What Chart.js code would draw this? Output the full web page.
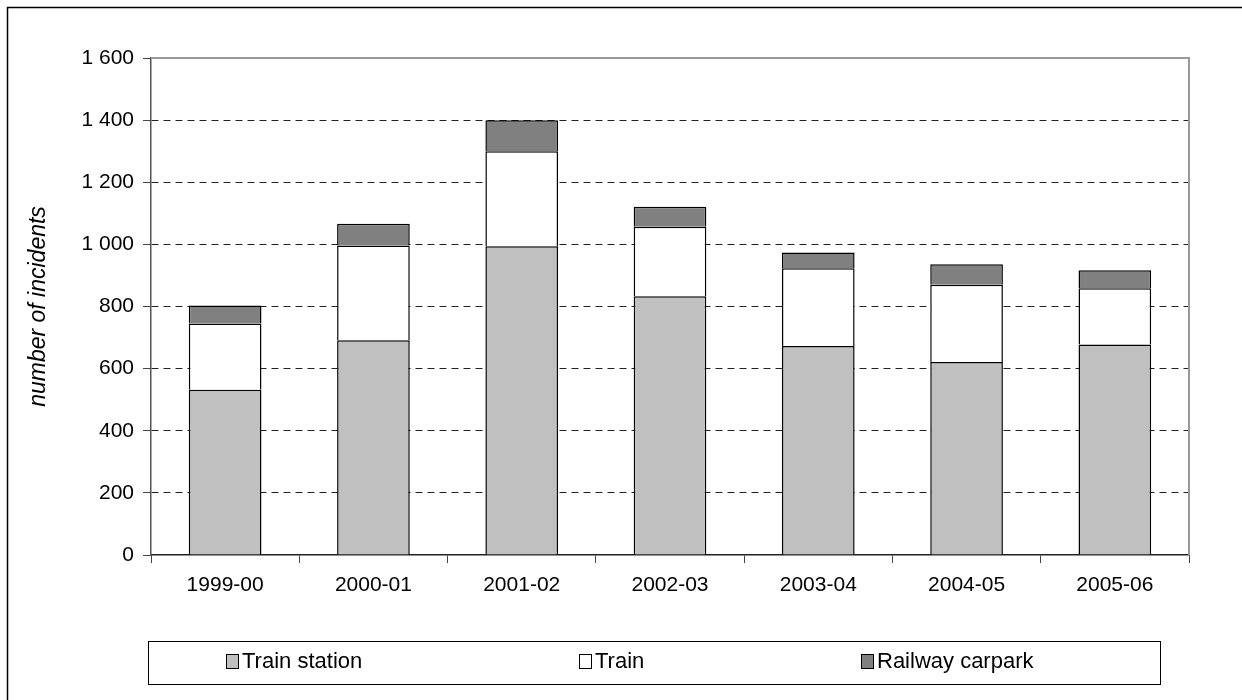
<!DOCTYPE html>
<html>
<head>
<meta charset="utf-8">
<script src="https://cdn.jsdelivr.net/npm/chart.js@4/dist/chart.umd.min.js"></script>
<style>
  html, body { margin: 0; padding: 0; background: #fff; }
  #wrap { position: relative; width: 1242px; height: 700px; }
  #legend {
    position: absolute; left: 148px; top: 641px; width: 1013px; height: 44px;
    border: 1px solid #000; box-sizing: border-box;
    font-family: "Liberation Sans", Arial, sans-serif; font-size: 22px; color: #000;
  }
  .item { position: absolute; top: 6px; white-space: nowrap; }
  .box { display: inline-block; width: 11px; height: 13px; border: 1px solid #000; vertical-align: -1px; margin-right: 3px; }
</style>
</head>
<body>
<div id="wrap">
  <canvas id="barChart" width="1242" height="700"></canvas>
  <div id="legend"></div>
</div>
<script>
var years = ["1999-00", "2000-01", "2001-02", "2002-03", "2003-04", "2004-05", "2005-06"];
var trainStation = [532, 691, 994, 833, 673, 621, 678];
var train = [213, 305, 306, 224, 250, 249, 181];
var railwayCarpark = [58, 70, 100, 64, 51, 66, 58];
var seriesNames = ["Train station", "Train", "Railway carpark"];
var seriesColors = ["#c0c0c0", "#ffffff", "#808080"];
var yTicks = [0, 200, 400, 600, 800, 1000, 1200, 1400, 1600];

var font = "'Liberation Sans', Arial, sans-serif";

function spaced(v) {
    return String(v).replace(/\B(?=(\d{3})+(?!\d))/g, " ");
}

// outer frame + plot frame
var framePlugin = {
    id: "frame",
    beforeDraw: function (chart) {
        var c = chart.ctx;
        c.save();
        c.fillStyle = "#fff";
        c.fillRect(0, 0, chart.width, chart.height);
        c.strokeStyle = "#000";
        c.lineWidth = 1.5;
        c.strokeRect(7.5, 7.5, chart.width + 20, chart.height + 20);
        c.restore();
    },
    afterDatasetsDraw: function (chart) {
        var a = chart.chartArea, c = chart.ctx;
        c.save();
        c.strokeStyle = "#999";
        c.lineWidth = 2;
        c.beginPath();
        c.moveTo(a.left, a.top);
        c.lineTo(a.right, a.top);
        c.lineTo(a.right, a.bottom);
        c.stroke();
        c.restore();
    }
};

var ctx = document.getElementById("barChart").getContext("2d");
var barChart = new Chart(ctx, {
    type: "bar",
    data: {
        labels: years,
        datasets: [trainStation, train, railwayCarpark].map(function (d, i) {
            return {
                label: seriesNames[i],
                data: d,
                backgroundColor: seriesColors[i],
                borderColor: "#000",
                borderWidth: 1.5,
                barPercentage: 0.49,
                categoryPercentage: 1
            };
        })
    },
    options: {
        responsive: false,
        animation: false,
        layout: { padding: { left: 0, top: 58, right: 53, bottom: 0 } },
        scales: {
            x: {
                stacked: true,
                afterFit: function (s) { s.height = 145; },
                grid: { display: true, drawOnChartArea: false, offset: true, tickLength: 8, tickColor: "#444", tickWidth: 1 },
                border: { color: "#222", width: 1.5 },
                ticks: { color: "#000", padding: 10, font: { family: font, size: 21 } }
            },
            y: {
                stacked: true,
                min: 0,
                max: 1600,
                afterFit: function (s) { s.width = 151; },
                afterBuildTicks: function (s) { s.ticks = yTicks.map(function (v) { return { value: v }; }); },
                grid: {
                    color: function (c) { return (c.tick && (c.tick.value === 0 || c.tick.value === 1600)) ? "rgba(0,0,0,0)" : "#222"; },
                    lineWidth: 1,
                    tickLength: 8,
                    tickColor: "#444",
                    tickBorderDash: []
                },
                border: { color: "#555", width: 1.5, dash: [7, 5] },
                ticks: {
                    color: "#000", padding: 9,
                    font: { family: font, size: 21 },
                    callback: function (v) { return spaced(v); }
                },
                title: {
                    display: true,
                    text: "number of incidents",
                    color: "#000",
                    font: { family: font, size: 23, style: "italic" },
                    padding: { top: 25, bottom: 0 }
                }
            }
        },
        plugins: {
            legend: { display: false },
            tooltip: { enabled: false }
        }
    },
    plugins: [framePlugin]
});

// legend built from the series
var legendPos = [77, 430, 712];
var legend = document.getElementById("legend");
seriesNames.forEach(function (name, i) {
    var item = document.createElement("span");
    item.className = "item";
    item.style.left = legendPos[i] + "px";
    item.innerHTML = '<span class="box" style="background:' + seriesColors[i] + '"></span>' + name;
    legend.appendChild(item);
});
</script>
</body>
</html>
